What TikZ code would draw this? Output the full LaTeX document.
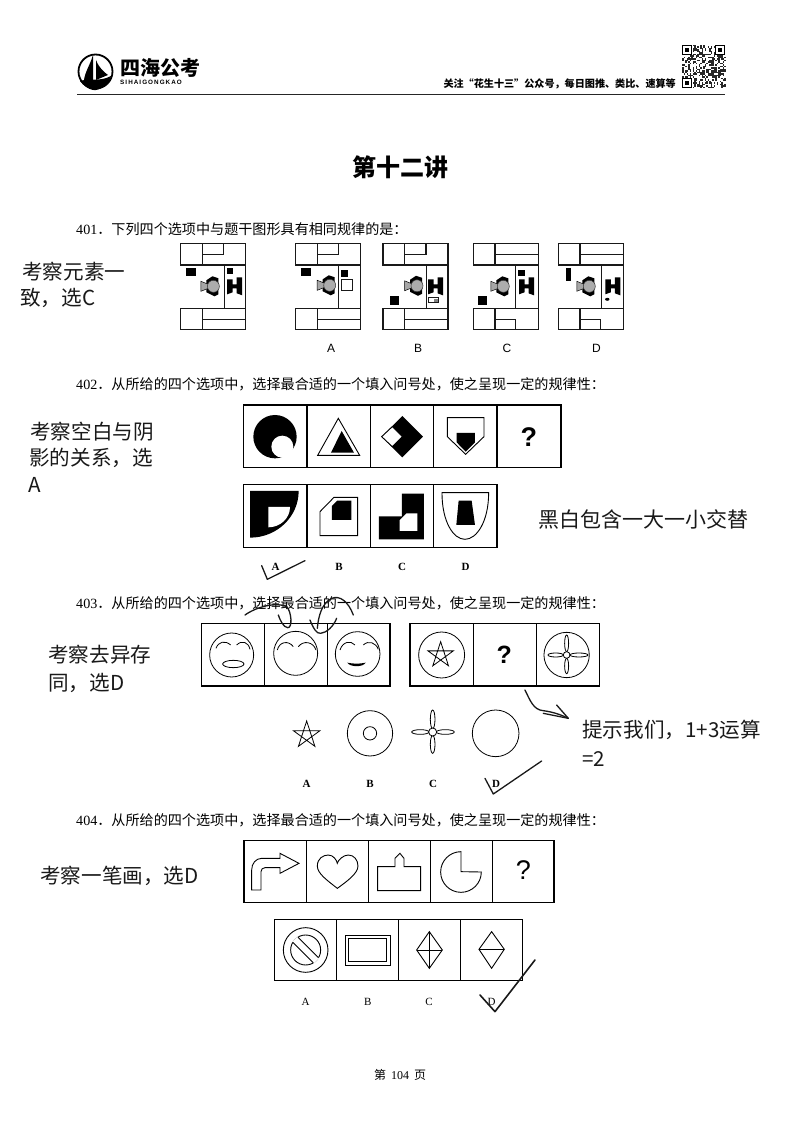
\documentclass[tikz,border=0pt]{standalone}
\usepackage{fontspec}
\setmainfont{Liberation Serif}
\setsansfont{Liberation Sans}
\newfontfamily\cjk{Noto Sans CJK SC}
\newfontfamily\numf{Liberation Serif}
\usetikzlibrary{arrows.meta}
\newcommand{\fs}[1]{\fontsize{#1}{#1}\selectfont}
\tikzset{
  zoomed/.style 2 args={shift={(#1,#2)},x=0.3333pt,y=-0.3333pt},
  cell/.style={draw=black,line width=1.3pt},
  thin shape/.style={draw=black,line width=0.9pt,fill=white},
  plan/.style={draw=black!90,line width=1.2pt},
  ink/.style={draw=black!90,line width=1.3pt,line cap=round,line join=round},
  qtext/.style={anchor=west,inner sep=0pt,font=\cjk\fs{14.1}},
  hand/.style={anchor=west,inner sep=0pt,font=\cjk\fs{20.6},text=black!90},
  optsans/.style={inner sep=0pt,font=\sffamily\fs{12}},
  optbold/.style={inner sep=0pt,font=\bfseries\fs{11}},
  optser/.style={inner sep=0pt,font=\fs{11}},
  qmark/.style={inner sep=0pt,font=\sffamily\bfseries\fs{27}},
}
% office plan: #1 top-variant (1 = shelf, 0 = line), #3 partition x
\newcommand{\planframe}[3]{%
  \draw[plan] (0,0) rectangle (65,21.7);
  \draw[plan] (0,65) rectangle (65,86);
  \draw[plan] (21.7,0) -- (21.7,21.7);
  \draw[plan] (21.7,65) -- (21.7,86);
  \draw[plan] (65,0) -- (65,86);
  \draw[plan,line width=0.9pt] (#3,21.7) -- (#3,65);
  \ifnum#1=1
    \draw[plan] (21.7,11) -| (43,0);
    \draw[plan] (21.7,76) -- (65,76);
  \else
    \draw[plan] (21.7,11) -- (65,11);
    \draw[plan] (21.7,86) -- (21.7,76) -- (42.5,76) -- (42.5,86);
  \fi}
\newcommand{\planperson}[2]{%
  \begin{scope}[shift={(#1,#2)}]
    \fill[black] (-7,-6) -- (-1,-10) -- (5,-8) -- (5,8) -- (1,10) -- (-7,6) -- cycle;
    \draw[draw=black,fill=gray!70,line width=0.5pt] (-12.5,-5) -- (-5,-2) -- (-5,2) -- (-12.5,5) -- cycle;
    \draw[draw=black!80,fill=gray!65,line width=0.5pt] (0,0) circle[radius=6];
  \end{scope}}
\newcommand{\planh}[2]{%
  \fill[black,shift={(#1,#2)}] (-7,-7) -- (-1.5,-7) -- (-1.5,-2) -- (2.5,-2) -- (2.5,-9) -- (8,-9) -- (8,9) -- (2.5,7) -- (2.5,2) -- (-1.5,2) -- (-1.5,6) -- (-7,8) -- cycle;}
\newcommand{\qnum}[1]{{\numf #1}．}
\begin{document}
\begin{tikzpicture}[x=1pt,y=-1pt]
\useasboundingbox (0,0) rectangle (800,1131);
\fill[white] (0,0) rectangle (800,1131);

% ---------- header
\draw[black,line width=1.8pt] (95.5,71.5) circle[radius=17];
\fill[black] (93,55) .. controls (90,65) and (85,72) .. (84,80) -- (93,80) -- cycle;
\fill[black] (96,60) .. controls (99,68) and (104,72) .. (108,75) -- (96,80) -- cycle;
\fill[black] (80,81) .. controls (90,78) and (100,82) .. (111,76) .. controls (110,84) and (100,91) .. (93,90) .. controls (88,89) and (84,86) .. (80,81) -- cycle;
\node[anchor=west,inner sep=0pt,font=\cjk\bfseries\fs{20}] (brand) at (120,68) {四海公考};
\node[anchor=west,inner sep=0pt,font=\sffamily\bfseries\fs{6.3}] (brandlat) at (120,82) {S\,I\,H\,A\,I\,G\,O\,N\,G\,K\,A\,O};
\node[anchor=east,inner sep=0pt,font=\cjk\bfseries\fs{10.1}] (slogan) at (676,83.5) {关注“花生十三”公众号，每日图推、类比、速算等};
\begin{scope}[shift={(682,45)}]
  \pgfmathsetseed{11}
  \foreach \i in {0,...,28}{\foreach \j in {0,...,28}{%
    \pgfmathtruncatemacro\qrv{rnd>0.52?1:0}%
    \ifnum\qrv=1 \fill[black!85] (\i*1.5,\j*1.5) rectangle ++(1.5,1.5);\fi}}
  \foreach \a/\b in {0/0,33/0,0/33}{
    \fill[white] (\a,\b) rectangle ++(11,10.5);
    \draw[black,line width=1.3pt] (\a+.8,\b+.8) rectangle ++(8.6,8.6);
    \fill[black] (\a+3,\b+3) rectangle ++(4.2,4.2);}
\end{scope}
\draw[black!85,line width=1.5pt] (77,94.7) -- (725,94.7);
\node[inner sep=0pt,font=\cjk\bfseries\fs{24}] (title) at (400,167) {第十二讲};

% ---------- 401
\node[qtext] (q401) at (76,229) {\qnum{401}下列四个选项中与题干图形具有相同规律的是：};
\node[hand] (h401a) at (22,272) {考察元素一};
\node[hand] (h401b) at (20,298) {致，选C};

\begin{scope}[shift={(180.7,243.3)}]
  \planframe{1}{}{43.3}
  \fill[black] (5,25) rectangle (15,33);
  \fill[black] (46.5,24.5) rectangle (52.5,30.5);
  \planperson{32.7}{43}\planh{53.5}{43}
\end{scope}
\begin{scope}[shift={(295.7,243.3)}]
  \planframe{1}{}{42.7}
  \fill[black] (5.5,25) rectangle (15,33);
  \fill[black] (45.5,27) rectangle (52,33.5);
  \draw[plan,fill=white] (45.5,36) rectangle (56.5,47);
  \planperson{34}{42}
\end{scope}
\begin{scope}[shift={(383,243.3)}]
  \planframe{1}{}{43}
  \fill[black] (6.5,53) rectangle (15.5,62);
  \draw[plan,line width=.8pt] (45.5,54.5) rectangle (55.5,59.5);
  \fill[gray] (50.5,55.5) rectangle (54.5,58.5);
  \planperson{34}{42.5}\planh{52}{43}
\end{scope}
\begin{scope}[shift={(473.3,243.3)}]
  \planframe{0}{}{42.3}
  \fill[black] (5,53) rectangle (13.5,62);
  \fill[black] (45,27) rectangle (51.5,33);
  \planperson{30}{43}\planh{52.7}{43}
\end{scope}
\begin{scope}[shift={(558.3,243.3)}]
  \planframe{0}{}{43.3}
  \fill[black] (8,25) rectangle (13,38);
  \fill[black] (49,56) ellipse[x radius=2.2,y radius=1.5];
  \planperson{31}{43}\planh{54}{43}
\end{scope}
\node[optsans] (l401a) at (331,348) {A};
\node[optsans] (l401b) at (418,348) {B};
\node[optsans] (l401c) at (507,348) {C};
\node[optsans] (l401d) at (596.5,348) {D};

% ---------- 402
\node[qtext] (q402) at (76,384) {\qnum{402}从所给的四个选项中，选择最合适的一个填入问号处，使之呈现一定的规律性：};
\node[hand] (h402a) at (30,432) {考察空白与阴};
\node[hand] (h402b) at (29,458) {影的关系，选};
\node[hand] (h402c) at (28,485) {A};
\node[hand,font=\cjk\fs{21}] (h402d) at (538,519) {黑白包含一大一小交替};

\draw[cell] (243.3,405) rectangle (561,467.3);
\foreach \x in {307,370.3,433.7,497} \draw[cell] (\x,405) -- (\x,467.3);
\draw[cell] (243.3,484.3) rectangle (497,547.7);
\foreach \x in {307,370.3,433.7} \draw[cell] (\x,484.3) -- (\x,547.7);
\begin{scope}[zoomed={230}{395}]
  \fill[black] (135,125) circle[radius=65];
  \fill[white] (157,155) circle[radius=33];
  \draw[thin shape] (325,70) -- (263,181) -- (389,181) -- cycle;
  \fill[black] (335,108) -- (303,173) -- (372,173) -- cycle;
  \fill[black] (517,63) -- (579,125) -- (517,187) -- (455,125) -- cycle;
  \draw[thin shape] (455,125) -- (487,95) -- (517,125) -- (487,155) -- cycle;
  \draw[thin shape] (652,68) -- (762,68) -- (762,125) -- (707,178) -- (652,125) -- cycle;
  \fill[black] (680,114) -- (735,114) -- (735,142) -- (707,170) -- (680,142) -- cycle;
  \node[qmark] (qm402) at (897,125) {?};
  % options
  \fill[black] (60,288) -- (206,288) arc[start angle=0,end angle=90,x radius=146,y radius=140] -- cycle;
  \fill[white] (115,336) -- (180,336) arc[start angle=0,end angle=90,x radius=65,y radius=61] -- cycle;
  \draw[thin shape] (312,307) -- (383,307) -- (383,422) -- (270,422) -- (270,350) -- cycle;
  \fill[black] (322,317) -- (364,317) -- (364,375) -- (306,375) -- (306,333) -- cycle;
  \fill[black] (516,296) -- (582,296) -- (582,433) -- (447,433) -- (447,364) -- (516,364) -- cycle;
  \fill[white] (530,355) -- (562,355) -- (562,408) -- (509,408) -- (509,376) -- cycle;
  \draw[thin shape] (636,293) .. controls (636,380) and (670,433) .. (705,433) .. controls (740,433) and (776,380) .. (776,293) -- cycle;
  \fill[black] (686,317) -- (725,317) -- (735,390) -- (679,390) -- cycle;
  \draw[ink] (95,512) -- (112,553) -- (225,497);
\end{scope}
\node[optbold] (l402a) at (275.7,566.7) {A};
\node[optbold] (l402b) at (339,566.7) {B};
\node[optbold] (l402c) at (402,566.7) {C};
\node[optbold] (l402d) at (465.7,566.7) {D};

% ---------- 403
\node[qtext] (q403) at (76,603) {\qnum{403}从所给的四个选项中，选择最合适的一个填入问号处，使之呈现一定的规律性：};
\node[hand] (h403a) at (48,655) {考察去异存};
\node[hand] (h403b) at (48,683) {同，选D};
\node[hand] (h403c) at (582,730) {提示我们，1+3运算};
\node[hand] (h403d) at (582,759) {=2};

\draw[cell] (201.7,623.3) rectangle (390,686);
\foreach \x in {264,327} \draw[cell,line width=1pt] (\x,623.3) -- (\x,686);
\draw[cell] (410,623.3) rectangle (599.3,686);
\foreach \x in {473.7,536.7} \draw[cell,line width=1pt] (\x,623.3) -- (\x,686);
\begin{scope}[zoomed={190}{590},every path/.append style={line width=0.8pt}]
  \draw (125,195) circle[radius=66];
  \draw (78,175) .. controls (85,155) and (105,150) .. (122,165);
  \draw (140,165) .. controls (155,150) and (175,155) .. (180,178);
  \draw (130,222) ellipse[x radius=32,y radius=11];
  \draw (317,190) circle[radius=66];
  \draw (262,180) .. controls (268,155) and (295,150) .. (310,170);
  \draw (325,170) .. controls (340,150) and (370,155) .. (378,180);
  \draw (503,192) circle[radius=67];
  \draw (450,180) .. controls (458,155) and (482,150) .. (495,165);
  \draw (520,165) .. controls (535,150) and (558,158) .. (565,178);
  \fill[black] (472,218) .. controls (490,222) and (510,222) .. (527,218) .. controls (520,232) and (480,232) .. (472,218) -- cycle;
  \draw (755,195) circle[radius=69];
  \begin{scope}[shift={(752,195)}]
    \draw[line join=miter] (-90:40) -- (54:40) -- (198:40) -- (342:40) -- (126:40) -- cycle;
  \end{scope}
  \node[qmark,font=\sffamily\bfseries\fs{25}] (qm403) at (943,195) {?};
  \draw (1130,195) circle[radius=68];
  \draw (1130,160) ellipse[x radius=6,y radius=25];
  \draw (1130,228) ellipse[x radius=6,y radius=23];
  \draw (1097,195) ellipse[x radius=23,y radius=6];
  \draw (1167,195) ellipse[x radius=27,y radius=6];
  \draw[fill=white] (1130,195) circle[radius=10];
  % scribbles
  \draw[ink] (165,75) .. controls (200,50) and (260,35) .. (290,50) .. controls (305,65) and (308,115) .. (293,113) .. controls (280,112) and (270,90) .. (265,75);
  \draw[ink] (360,90) .. controls (370,115) and (380,132) .. (392,130) .. controls (410,128) and (430,110) .. (440,85);
  \draw[ink] (382,115) .. controls (385,80) and (395,40) .. (425,25) .. controls (450,15) and (475,35) .. (490,75);
\end{scope}
\begin{scope}[zoomed={280}{690},every path/.append style={line width=0.8pt}]
  \begin{scope}[shift={(80,135)}]
    \draw[line join=miter] (-90:42) -- (54:42) -- (198:42) -- (342:42) -- (126:42) -- cycle;
  \end{scope}
  \draw (270,130) circle[radius=68];
  \draw (270,130) circle[radius=20];
  \draw (458,88) ellipse[x radius=7,y radius=28];
  \draw (458,163) ellipse[x radius=7,y radius=27];
  \draw (421,126) ellipse[x radius=26,y radius=7];
  \draw (496,126) ellipse[x radius=27,y radius=7];
  \draw[fill=white] (458,126) circle[radius=12];
  \draw (647,130) circle[radius=70];
\end{scope}
\node[optbold] (l403a) at (306.7,784) {A};
\node[optbold] (l403b) at (370,784) {B};
\node[optbold] (l403c) at (433,784) {C};
\node[optbold] (l403d) at (496,784) {D};
\begin{scope}[zoomed={280}{690}]
  \draw[ink] (615,265) -- (640,312) -- (785,213);
  \draw[ink] (735,-0) .. controls (750,30) and (760,60) .. (790,62) .. controls (820,66) and (845,75) .. (865,85);
  \draw[ink] (830,45) -- (865,85) -- (790,70);
\end{scope}

% ---------- 404
\node[qtext] (q404) at (76,820) {\qnum{404}从所给的四个选项中，选择最合适的一个填入问号处，使之呈现一定的规律性：};
\node[hand] (h404) at (40,876) {考察一笔画，选D};

\draw[cell] (244,840.7) rectangle (554,902.3);
\foreach \x in {306,368,430,492} \draw[cell,line width=1pt] (\x,840.7) -- (\x,902.3);
\draw[cell] (274.3,919.3) rectangle (522.3,980.7);
\foreach \x in {336.3,398.3,460.7} \draw[cell,line width=1pt] (\x,919.3) -- (\x,980.7);
\begin{scope}[zoomed={230}{830},every path/.append style={line width=0.9pt}]
  \draw[line join=miter] (65,180) -- (65,120) .. controls (65,100) and (78,85) .. (95,85) -- (150,85) -- (150,70) -- (207,100) -- (150,130) -- (150,113) -- (105,113) .. controls (98,113) and (93,118) .. (93,125) -- (93,180) -- cycle;
  \draw (322,175) .. controls (290,150) and (262,130) .. (262,108) .. controls (262,85) and (280,75) .. (295,75) .. controls (310,75) and (320,90) .. (322,100) .. controls (324,90) and (340,75) .. (355,75) .. controls (372,75) and (384,90) .. (384,108) .. controls (384,130) and (350,155) .. (322,175) -- cycle;
  \draw (443,110) -- (495,110) -- (495,85) -- (510,70) -- (522,85) -- (522,110) -- (572,110) -- (572,182) -- (443,182) -- cycle;
  \draw (693,65) arc[start angle=-90,end angle=-360,radius=61] -- (693,125) -- cycle;
  \node[qmark,font=\sffamily\fs{27}] (qm404) at (880,120) {?};
  % options
  \draw (227,360) circle[radius=67];
  \draw (227,360) circle[radius=45];
  \begin{scope}[shift={(227,360)},rotate=-45]
    \fill[white] (-46,-11) rectangle (46,11);
    \draw (-43.6,-11) -- (43.6,-11);
    \draw (-43.6,11) -- (43.6,11);
  \end{scope}
  \draw (345,315) rectangle (480,405);
  \draw (356,325) rectangle (470,395);
  \draw (598,305) -- (637,360) -- (598,415) -- (560,360) -- cycle;
  \draw (598,305) -- (598,415);
  \draw (560,360) -- (637,360);
  \draw (785,305) -- (823,358) -- (785,415) -- (747,358) -- cycle;
  \draw[line width=1.2pt] (747,358) -- (823,358);
\end{scope}
\node[optser] (l404a) at (305.7,1001.7) {A};
\node[optser] (l404b) at (367.7,1001.7) {B};
\node[optser] (l404c) at (429,1001.7) {C};
\node[optser] (l404d) at (491.7,1001.7) {D};
\begin{scope}[zoomed={230}{830}]
  \draw[ink,line width=1.6pt] (750,495) -- (795,545) -- (915,390);
\end{scope}

\node[inner sep=0pt,font=\cjk\fs{12}] (foot) at (400,1075) {第\hspace{5pt}{\numf 104}\hspace{5pt}页};
\end{tikzpicture}
\end{document}
